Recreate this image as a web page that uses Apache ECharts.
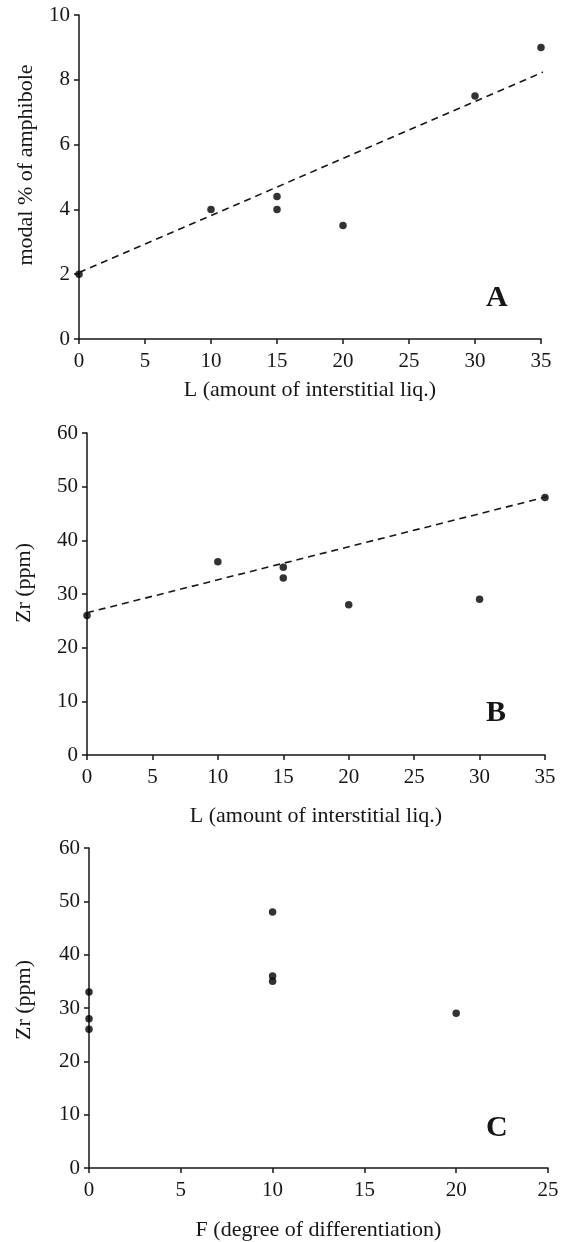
<!DOCTYPE html>
<html>
<head>
<meta charset="utf-8">
<script src="https://cdn.jsdelivr.net/npm/echarts@6/dist/echarts.min.js"></script>
<style>
  html, body { margin: 0; padding: 0; background: #fff; }
  #chart { width: 567px; height: 1242px; }
</style>
</head>
<body>
<div id="chart"></div>
<script>
// Panel A: modal % amphibole vs L
const xA = [0, 10, 15, 15, 20, 30, 35];
const yA = [2, 4, 4.4, 4, 3.5, 7.5, 9];
const trendAx = [0, 35.5];
const trendAy = [2.05, 8.3];
// Panel B: Zr vs L
const xB = [0, 10, 15, 15, 20, 30, 35];
const yB = [26, 36, 35, 33, 28, 29, 48];
const trendBx = [0, 35.6];
const trendBy = [26.5, 48.4];
// Panel C: Zr vs F
const xC = [0, 0, 0, 10, 10, 10, 20];
const yC = [33, 28, 26, 48, 36, 35, 29];

const xTitleL = 'L (amount of interstitial liq.)';
const xTitleF = 'F (degree of differentiation)';
const yTitleA = 'modal % of amphibole';
const yTitleZr = 'Zr (ppm)';
const panelLetters = ['A', 'B', 'C'];

const FONT = '"Liberation Serif", "Times New Roman", serif';
const INK = '#161616';

function zip(xs, ys) { return xs.map((x, i) => [x, ys[i]]); }

function xAxisOf(gridIndex, max, name, nameGap) {
  return {
    type: 'value', gridIndex, min: 0, max, interval: 5,
    name, nameLocation: 'middle', nameGap,
    nameTextStyle: { fontFamily: FONT, fontSize: 22, color: INK },
    axisLine: { show: true, onZero: false, lineStyle: { color: INK, width: 1.5 } },
    axisTick: { show: true, length: 5, lineStyle: { color: INK, width: 1.5 } },
    axisLabel: { fontFamily: FONT, fontSize: 21, color: INK, margin: 12 },
    splitLine: { show: false }
  };
}
function yAxisOf(gridIndex, max, interval, name, nameGap, shift) {
  return {
    type: 'value', gridIndex, min: 0, max, interval,
    name, nameLocation: 'middle', nameGap, nameRotate: 90,
    nameTextStyle: { fontFamily: FONT, fontSize: 22, color: INK, padding: [0, 0, 0, shift] },
    axisLine: { show: true, onZero: false, lineStyle: { color: INK, width: 1.5 } },
    axisTick: { show: true, length: 5, lineStyle: { color: INK, width: 1.5 } },
    axisLabel: { fontFamily: FONT, fontSize: 21, color: INK, margin: 9 },
    splitLine: { show: false }
  };
}
function scatterOf(i, xs, ys) {
  return {
    type: 'scatter', xAxisIndex: i, yAxisIndex: i, data: zip(xs, ys),
    symbol: 'circle', symbolSize: 7.5, itemStyle: { color: '#000' }, silent: true
  };
}
function trendOf(i, xs, ys) {
  return {
    type: 'line', xAxisIndex: i, yAxisIndex: i, data: zip(xs, ys),
    showSymbol: false, clip: false, silent: true,
    lineStyle: { color: INK, width: 1.6, type: [7, 5] }
  };
}

const chart = echarts.init(document.getElementById('chart'), null, { renderer: 'canvas' });
chart.setOption({
  backgroundColor: '#fff',
  animation: false,
  grid: [
    { left: 79, right: 26, top: 15, bottom: 903 },
    { left: 87, right: 22, top: 433, bottom: 487 },
    { left: 89, right: 19, top: 848, bottom: 74 }
  ],
  xAxis: [
    xAxisOf(0, 35, xTitleL, 40),
    xAxisOf(1, 35, xTitleL, 50),
    xAxisOf(2, 25, xTitleF, 51)
  ],
  yAxis: [
    yAxisOf(0, 10, 2, yTitleA, 42, 24),
    yAxisOf(1, 60, 10, yTitleZr, 52, 22),
    yAxisOf(2, 60, 10, yTitleZr, 54, 16)
  ],
  graphic: [
    { type: 'text', left: 486, top: 283, style: { text: panelLetters[0], font: 'bold 30px ' + FONT, fill: INK } },
    { type: 'text', left: 486, top: 698, style: { text: panelLetters[1], font: 'bold 30px ' + FONT, fill: INK } },
    { type: 'text', left: 486, top: 1113, style: { text: panelLetters[2], font: 'bold 30px ' + FONT, fill: INK } }
  ],
  series: [
    trendOf(0, trendAx, trendAy),
    scatterOf(0, xA, yA),
    trendOf(1, trendBx, trendBy),
    scatterOf(1, xB, yB),
    scatterOf(2, xC, yC)
  ]
});
</script>
</body>
</html>
